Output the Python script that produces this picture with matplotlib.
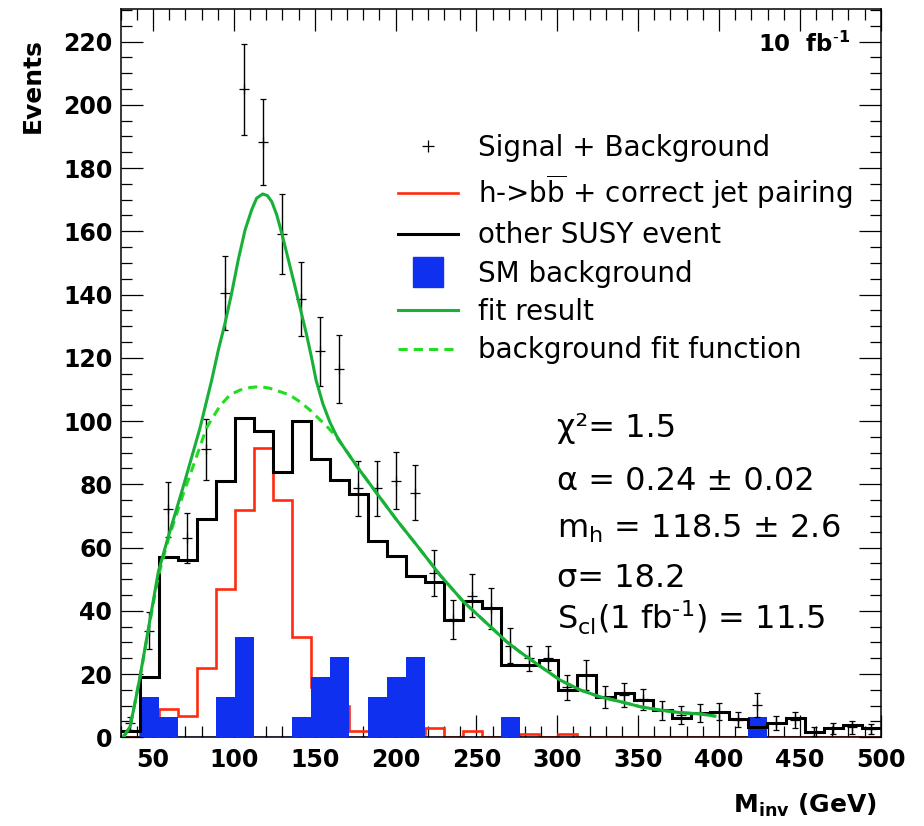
import matplotlib
matplotlib.use("Agg")
import matplotlib.pyplot as plt
from matplotlib.lines import Line2D
import numpy as np

# 40 bins of 11.75 GeV between 30 and 500 GeV
edges = np.linspace(30, 500, 41)

other_susy = [2, 19, 57, 56, 69, 81, 101, 97, 84, 100,
              88, 81.4, 77, 62, 57.2, 51, 49, 37, 43.2, 41,
              23, 23, 24.4, 15, 19.7, 12.9, 13.9, 11.8, 8.6, 6,
              7.6, 8.1, 5.7, 3.2, 4.6, 6, 1.6, 2.8, 3.9, 2.8]

hbb_correct = [0, 3, 9, 6.7, 22, 47, 72, 91.4, 75, 31.8,
               16, 10, 2.1, 2, 1, 1, 2.8, 0, 2.1, 0,
               0, 1, 0, 1, 0, 0, 0, 0, 0, 0,
               0, 0, 0, 0, 0, 0, 0, 0, 0, 0]

sm_background = [0, 12.64, 6.32, 0, 0, 12.64, 31.6, 0, 0, 6.32,
                 18.96, 25.28, 0, 12.64, 18.96, 25.28, 0, 0, 0, 0,
                 6.32, 0, 0, 0, 0, 0, 0, 0, 0, 0,
                 0, 0, 0, 6.32, 0, 0, 0, 0, 0, 0]

sig_bkg = [4.4, 33.7, 72.1, 62.9, 91.1, 140.6, 204.9, 188.2, 159.2, 138.5,
           122, 116.4, 78.7, 78.7, 81.2, 77.4, 51.9, 37.3, 44.7, 40.8,
           29, 25, 25, 15.8, 19.7, 12.8, 13.4, 12, 8.6, 7,
           7.6, 8.1, 5.5, 10.2, 4.4, 5.5, 1.8, 2.8, 3.2, 2.5]

sig_bkg_err = [2, 5.8, 8.7, 7.9, 9.6, 11.7, 14.4, 13.7, 12.6, 11.7,
               11, 10.8, 8.8, 8.8, 9, 8.7, 7.2, 6.2, 6.8, 6.5,
               5.5, 4, 3.8, 3.9, 4.6, 3.5, 3.9, 3.4, 3, 2.9,
               2.9, 2.7, 2.4, 3.8, 2.2, 2.5, 1.4, 1.7, 2.0, 1.6]

fit_x = [31.6, 35.8, 38.5, 41.7, 47.7, 53.3, 59.4, 68.7, 79, 86.3,
         90.4, 94.5, 98.6, 102.7, 106.9, 111, 114.1, 117.8, 120.7, 123.4,
         126.5, 129.6, 133.7, 137.8, 141.3, 145, 148.1, 150.8, 155, 159.4,
         163.5, 167.7, 176.9, 188.3, 200.7, 213, 227.5, 241.9, 256.3, 268.7,
         276.9, 289.3, 301.7, 314, 326.4, 338.8, 351.1, 363.5, 375.9, 388.3,
         397.5]
fit_y = [0, 3.4, 10, 18.5, 36, 52.4, 63.4, 79.3, 97.7, 113,
         122.5, 130.9, 140.4, 151, 160.4, 166.8, 170.5, 171.8, 171.3, 169.4,
         165.2, 159.4, 151, 142.5, 135.1, 127.2, 119.9, 113, 105.5, 99.6,
         95.3, 91.9, 85.1, 77.2, 68.7, 60.8, 51.3, 42.9, 36.1, 30.2,
         27, 22.5, 18.1, 15, 12.8, 11.3, 9.7, 8.6, 7.8, 7.4,
         6.7]

bkg_fit_x = [31.6, 35.8, 41.7, 47.7, 53.3, 59.4, 68.7, 75, 83.2, 91.4,
             97.6, 103.8, 110, 116.1, 122, 128.5, 134.7, 140.8, 147, 152,
             157.4, 162.5, 167.7, 176.9, 188.3, 200.7, 213, 227.5, 241.9, 256.3,
             268.7, 276.9, 289.3, 301.7, 314, 326.4, 338.8, 351.1, 363.5, 375.9,
             388.3, 397.5]
bkg_fit_y = [0, 3.4, 18.3, 35.5, 51, 62.5, 77, 86, 98, 104.8,
             108.3, 109.8, 110.6, 110.9, 110.4, 109.3, 108.2, 106.1, 103.5, 101,
             98.4, 95.5, 91.9, 85.1, 77.2, 68.7, 60.8, 51.3, 42.9, 36.1,
             30.2, 27, 22.5, 18.1, 15, 12.8, 11.3, 9.7, 8.6, 7.8,
             7.4, 6.7]

fit_text = ["χ²= 1.5",
            "α = 0.24 ± 0.02",
            r"m$_{\rm h}$ = 118.5 ± 2.6",
            "σ= 18.2",
            "S$_{\\rm cl}$(1 fb$^{\u2010\\rm 1}$) = 11.5"]

blue = '#1030f0'
red = '#ff2a10'
green = '#18b038'
lime = '#22dd22'

plt.rcParams['font.family'] = ['DejaVu Sans']
plt.rcParams['mathtext.fontset'] = 'dejavusans'

W, H = 924, 826
fig = plt.figure(figsize=(W / 100, H / 100), dpi=100)
ax = fig.add_axes([120.7 / W, 1 - 737.3 / H, 760 / W, 728 / H])


def px(x, y):
    return x / W, 1 - y / H


centers = 0.5 * (edges[:-1] + edges[1:])

ax.axhline(0, color='#a0a4e8', lw=1.5, zorder=1)
ax.stairs(hbb_correct, edges, color=red, lw=1.9, baseline=None, zorder=2)
ax.stairs(sm_background, edges, fill=True, color=blue, lw=0, zorder=3)
ax.stairs(other_susy, edges, color='black', lw=2.2, baseline=None, zorder=4)
ax.errorbar(centers, sig_bkg, yerr=sig_bkg_err, fmt='+', color='black',
            ms=7, mew=0.9, elinewidth=1.0, capsize=2.5, capthick=1.0, zorder=5)
ax.plot(bkg_fit_x, bkg_fit_y, color=lime, lw=2.2, ls=(0, (3, 2)), zorder=6)
ax.plot(fit_x, fit_y, color=green, lw=2.2, zorder=7)

ax.set_xlim(30, 500)
ax.set_ylim(0, 230.2)
ax.set_xticks(np.arange(50, 501, 50))
ax.set_xticks(np.arange(30, 501, 10), minor=True)
ax.set_yticks(np.arange(0, 221, 20))
ax.set_yticks(np.arange(0, 231, 5), minor=True)
ax.tick_params(which='both', direction='in', top=True, right=True, width=0.9)
ax.tick_params(which='major', length=15.5)
ax.tick_params(which='minor', length=8)
ax.tick_params(axis='y', pad=6)
ax.tick_params(axis='x', pad=8)
for lab in ax.get_xticklabels() + ax.get_yticklabels():
    lab.set_fontsize(17)
    lab.set_fontweight('bold')
for sp in ax.spines.values():
    sp.set_linewidth(1.1)

fig.text(*px(33, 38), 'Events', rotation=90, ha='center', va='top',
         fontsize=18, fontweight='bold')
fig.text(*px(877, 813), r'M$_{\bf inv}$ (GeV)', ha='right', va='baseline',
         fontsize=18, fontweight='bold')
fig.text(*px(850, 52), '10  fb$^{\u2010\\bf 1}$', ha='right', va='baseline',
         fontsize=16.5, fontweight='bold')

for txt, yb in zip(fit_text, [437, 490, 538, 587, 630]):
    fig.text(*px(557, yb), txt, ha='left', va='baseline', fontsize=23)

handles = [
    Line2D([], [], color='black', marker='+', ls='none', ms=8, mew=0.9),
    Line2D([], [], color=red, lw=1.9),
    Line2D([], [], color='black', lw=2.2),
    Line2D([], [], color=blue, marker='s', ls='none', ms=22),
    Line2D([], [], color=green, lw=2.2),
    Line2D([], [], color=lime, lw=2.2, ls=(0, (3, 2))),
]
labels = ['Signal + Background',
          r'h->b$\overline{\rm b}$ + correct jet pairing',
          'other SUSY event',
          'SM background',
          'fit result',
          'background fit function']
fig.legend(handles, labels, loc='upper left', bbox_to_anchor=px(398, 134),
           frameon=False, fontsize=20, borderpad=0, borderaxespad=0,
           labelspacing=0.37, handlelength=2.15, handletextpad=0.72)

fig.savefig('out.png', dpi=100)
